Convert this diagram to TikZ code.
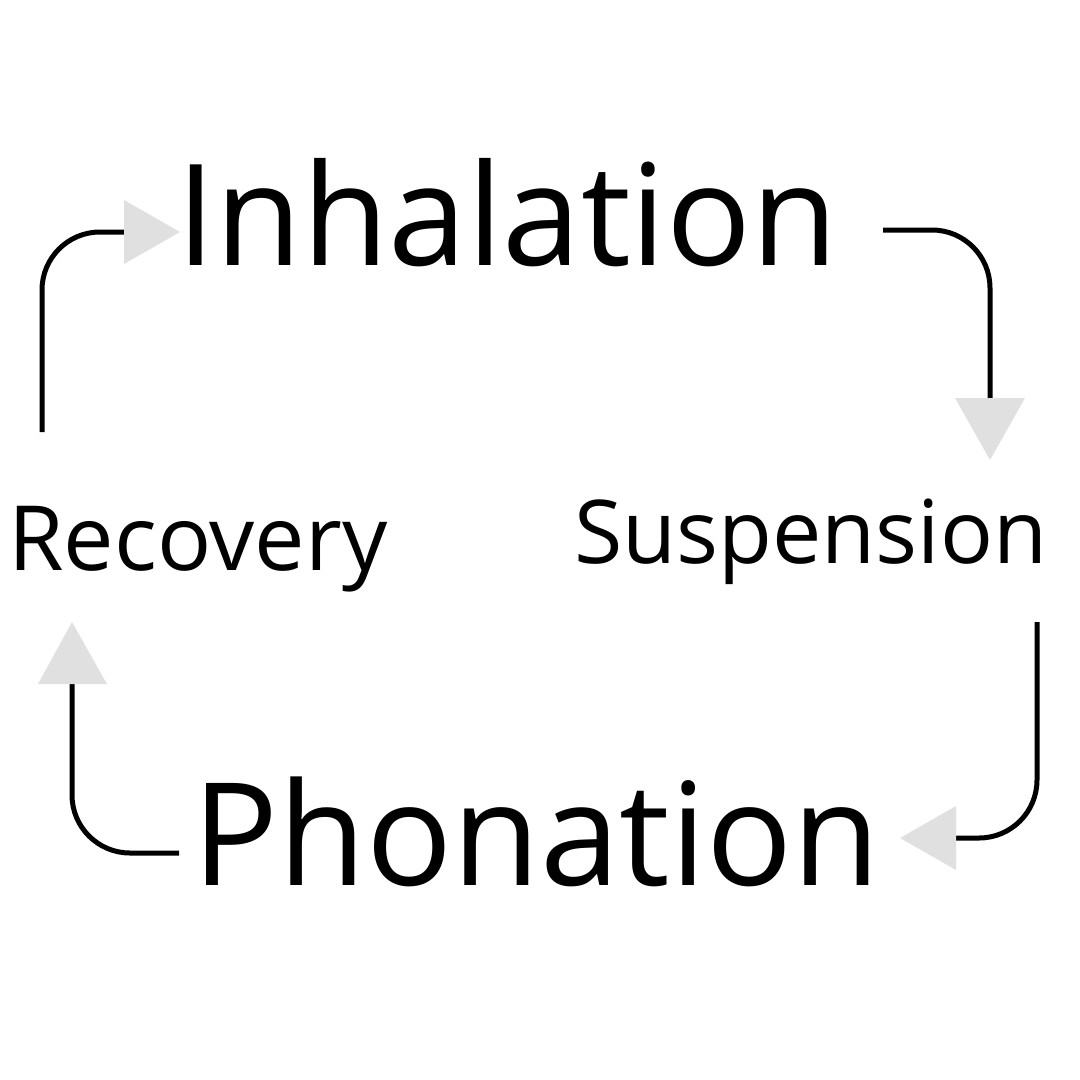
\documentclass[tikz,border=0pt]{standalone}
\usepackage{fontspec}
\setmainfont{Open Sans}
\begin{document}
\begin{tikzpicture}[x=1pt,y=-1pt,
  lbl/.style={anchor=base west,inner sep=0pt},
  conn/.style={line width=5pt,rounded corners=58pt},
  tip/.style={fill=black!12,draw=none}]
\useasboundingbox (0,0) rectangle (1080,1080);
\node[lbl,font=\fontsize{141}{141}\selectfont] (inh) at (176,265) {Inhalation};
\node[lbl,font=\fontsize{143}{143}\selectfont] (pho) at (192,885) {Phonation};
\node[lbl,font=\fontsize{90}{90}\selectfont] (rec) at (8,570) {Recovery};
\node[lbl,font=\fontsize{88}{88}\selectfont] (sus) at (574,563) {Suspension};
% connector 1: Recovery -> Inhalation
\coordinate (a1) at (42,432); \coordinate (a2) at (42,232); \coordinate (a3) at (126,232);
\draw[conn] (a1) -- (a2) -- (a3);
\fill[tip] (124,200) -- (180,232) -- (124,264) -- cycle;
% connector 2: Inhalation -> Suspension
\coordinate (b1) at (883,230); \coordinate (b2) at (990,230); \coordinate (b3) at (990,400);
\draw[conn] (b1) -- (b2) -- (b3);
\fill[tip] (955,398) -- (990,460) -- (1025,398) -- cycle;
% connector 3: Suspension -> Phonation
\coordinate (c1) at (1037,622); \coordinate (c2) at (1037,838); \coordinate (c3) at (954,838);
\draw[conn] (c1) -- (c2) -- (c3);
\fill[tip] (956,806) -- (900,838) -- (956,870) -- cycle;
% connector 4: Phonation -> Recovery
\coordinate (d1) at (179,853); \coordinate (d2) at (72,853); \coordinate (d3) at (72,684);
\draw[conn] (d1) -- (d2) -- (d3);
\fill[tip] (38,684) -- (72,622) -- (107,684) -- cycle;
\end{tikzpicture}
\end{document}
